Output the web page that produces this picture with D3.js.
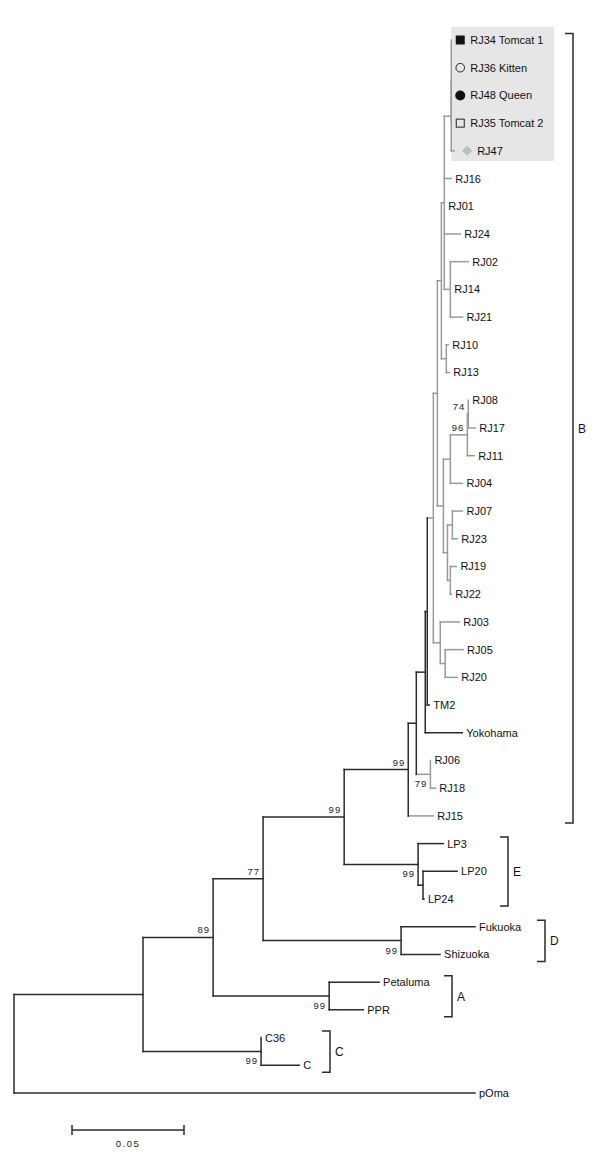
<!DOCTYPE html>
<html><head><meta charset="utf-8">
<script src="https://cdn.jsdelivr.net/npm/d3@7"></script>
<style>body{margin:0;background:#fff}svg{display:block}</style>
</head><body>
<svg id="c" width="600" height="1157"></svg>
<script>
// ---- DATA (pre-order: id, parent, branch length in substitutions/site) ----
const nodeIds = ["root","n143","n213","n263","n344","n408","nS","nQ","nT","nK","nL","nN","nTop","top5","sub4","RJ34","RJ36","RJ48","RJ35","RJ47","RJ16","RJ01","RJ24","G3","RJ02","RJ14","RJ21","n1013","RJ10","RJ13","nM","A1","n96","n74","RJ08","RJ17","RJ11","RJ04","nV","nW","RJ07","RJ23","nX","RJ19","RJ22","nJ","RJ03","nJ2","RJ05","RJ20","TM2","Yokohama","n0618","RJ06","RJ18","RJ15","nE","LP3","nE2","LP20","LP24","nD","Fukuoka","Shizuoka","nA","Petaluma","PPR","nC","C36","C","pOma"];
const parentIds = ["","root","n143","n213","n263","n344","n408","nS","nQ","nT","nK","nL","nN","nTop","top5","sub4","sub4","sub4","sub4","top5","nTop","nTop","nTop","nTop","G3","G3","G3","nN","n1013","n1013","nL","nM","A1","n96","n74","n74","n96","A1","nM","nV","nW","nW","nV","nX","nX","nK","nJ","nJ","nJ2","nJ2","nT","nQ","nS","n0618","n0618","n408","n344","nE","nE","nE2","nE2","n263","nD","nD","n213","nA","nA","n143","nC","nC","root"];
const branchLengths = [0,0.0576,0.0313,0.0223,0.0362,0.0286,0.0036,0.0040,0.0009,0.0027,0.0018,0.0018,0.0013,0.0031,0,0,0,0,0,0.0013,0.0031,0,0.0071,0.0027,0.0080,0,0.0054,0.0022,0.0009,0.0013,0.0027,0.0031,0.0076,0.0004,0,0.0031,0.0031,0.0054,0.0018,0.0022,0.0045,0.0022,0.0013,0.0027,0.0004,0.0031,0.0085,0.0022,0.0080,0.0054,0.0009,0.0165,0.0063,0,0.0022,0.0112,0.0330,0.0112,0.0022,0.0152,0.0004,0.0616,0.0330,0.0174,0.0518,0.0223,0.0152,0.0527,0,0.0170,0.2058];

const leafLabelIds = ["RJ34","RJ36","RJ48","RJ35"];
const leafLabelTexts = ["RJ34 Tomcat 1","RJ36 Kitten","RJ48 Queen","RJ35 Tomcat 2"];
const markerIds = ["RJ34","RJ36","RJ48","RJ35","RJ47"];
const markerTypes = ["squareFilled","circleOpen","circleFilled","squareOpen","diamond"];

const bootNodes = ["n213","n263","n344","n408","nE","nD","nA","nC","n0618","n96","n74"];
const bootValues = [89,77,99,99,99,99,99,99,79,96,74];
const bootAbove = [true,true,true,true,false,false,false,false,false,true,true];

const cladeNames = ["B","E","D","A","C"];
const cladeFirst = ["RJ34","LP3","Fukuoka","Petaluma","C36"];
const cladeLast = ["RJ15","LP24","Shizuoka","PPR","C"];

const grayRoots = ["nK","n0618","RJ15"];
const scaleBarValue = 0.05;

// ---- BUILD ----
const rows = nodeIds.map((id,i)=>({id, parent: parentIds[i]||null, len: branchLengths[i]}));
const root = d3.stratify().id(d=>d.id).parentId(d=>d.parent)(rows);
root.eachBefore(d=>{ d.dist = (d.parent ? d.parent.dist : 0) + d.data.len; });

const x = d3.scaleLinear().domain([0, 0.05]).range([14, 126]);
const leaves = root.leaves();
const y = d3.scalePoint().domain(leaves.map(d=>d.id)).range([40, 1093]);
root.eachAfter(d=>{
  if(!d.children) d.py = y(d.id);
  else d.py = (d.children[0].py + d.children[d.children.length-1].py)/2;
  d.px = x(d.dist);
});
const grayNodes = new Set();
grayRoots.forEach(g=>{ root.find(n=>n.id===g).each(n=>grayNodes.add(n.id)); });
const colorOf = id => grayNodes.has(id) ? "#9a9a9a" : "#2b2b2b";
const byId = id => root.find(n=>n.id===id);

const svg = d3.select("#c");
const font = "'Liberation Sans', Arial, sans-serif";

// highlight box
const first = byId("RJ34"), last = byId("RJ47");
svg.append("rect").attr("x", first.px).attr("y", first.py-13)
  .attr("width", 554-first.px).attr("height", last.py-first.py+23)
  .attr("fill","#e6e6e6");

// branches
const gB = svg.append("g").attr("fill","none").attr("stroke-width",1.5).attr("stroke-linecap","square");
root.descendants().filter(d=>d.parent).forEach(d=>{
  if (d.px - d.parent.px < 0.5) return;
  gB.append("line").attr("x1", d.parent.px).attr("x2", d.px).attr("y1", d.py).attr("y2", d.py)
    .attr("stroke", colorOf(d.id));
});
root.descendants().filter(d=>d.children).forEach(d=>{
  const c0 = d.children[0], c1 = d.children[d.children.length-1];
  gB.append("line").attr("x1", d.px).attr("x2", d.px).attr("y1", c0.py).attr("y2", c1.py)
    .attr("stroke", colorOf(d.id));
});

// markers
markerIds.forEach((id,i)=>{
  const n = byId(id), t = markerTypes[i];
  const cx = n.px + 9 + (t==="diamond"?4:0), cy = n.py;
  if (t==="squareFilled") svg.append("rect").attr("x",cx-4.5).attr("y",cy-4.5).attr("width",9).attr("height",9).attr("fill","#111");
  if (t==="squareOpen") svg.append("rect").attr("x",cx-4).attr("y",cy-4).attr("width",8).attr("height",8).attr("fill","none").attr("stroke","#222").attr("stroke-width",1);
  if (t==="circleOpen") svg.append("circle").attr("cx",cx).attr("cy",cy).attr("r",4.3).attr("fill","none").attr("stroke","#222").attr("stroke-width",1);
  if (t==="circleFilled") svg.append("circle").attr("cx",cx).attr("cy",cy).attr("r",5).attr("fill","#111");
  if (t==="diamond") svg.append("path").attr("d",`M${cx},${cy-5}L${cx+5},${cy}L${cx},${cy+5}L${cx-5},${cy}Z`).attr("fill","#bdbdbd");
});

// leaf labels
leaves.forEach(d=>{
  const li = leafLabelIds.indexOf(d.id);
  const mi = markerIds.indexOf(d.id);
  const txt = li>=0 ? leafLabelTexts[li] : d.id;
  const off = mi>=0 ? (markerTypes[mi]==="diamond" ? 23 : 19) : 4;
  svg.append("text").attr("x", d.px+off).attr("y", d.py).attr("dy","0.36em")
    .attr("font-family",font).attr("font-size","11px").attr("fill","#111").text(txt);
});

// bootstrap values
bootNodes.forEach((id,i)=>{
  const n = byId(id);
  svg.append("text").attr("x", n.px-3).attr("y", bootAbove[i] ? n.py-4 : n.py+13)
    .attr("text-anchor","end").attr("font-family",font).attr("font-size","9.5px")
    .attr("letter-spacing","1px").attr("fill","#222").text(bootValues[i]);
});

// clade brackets
const bracketX = [573, 508, 545, 452, 330];
cladeNames.forEach((nm,i)=>{
  const y0 = byId(cladeFirst[i]).py - 6.5, y1 = byId(cladeLast[i]).py + 7;
  const bx = bracketX[i];
  svg.append("path").attr("d",`M${bx-8},${y0}H${bx}V${y1}H${bx-8}`).attr("fill","none")
    .attr("stroke","#2b2b2b").attr("stroke-width",1.5);
  svg.append("text").attr("x", bx+5).attr("y",(y0+y1)/2).attr("dy","0.36em")
    .attr("font-family",font).attr("font-size","12px").attr("fill","#111").text(nm);
});

// scale bar
const sbX0 = 72, sbLen = x(scaleBarValue) - x(0), sbY = 1130;
svg.append("path").attr("d",`M${sbX0},${sbY-5}V${sbY+5}M${sbX0},${sbY}H${sbX0+sbLen}M${sbX0+sbLen},${sbY-5}V${sbY+5}`)
  .attr("fill","none").attr("stroke","#2b2b2b").attr("stroke-width",1.5);
svg.append("text").attr("x", sbX0+sbLen/2).attr("y", sbY+17).attr("text-anchor","middle")
  .attr("font-family",font).attr("font-size","9.5px").attr("letter-spacing","1.5px").attr("fill","#222").text(String(scaleBarValue));
</script>
</body></html>
